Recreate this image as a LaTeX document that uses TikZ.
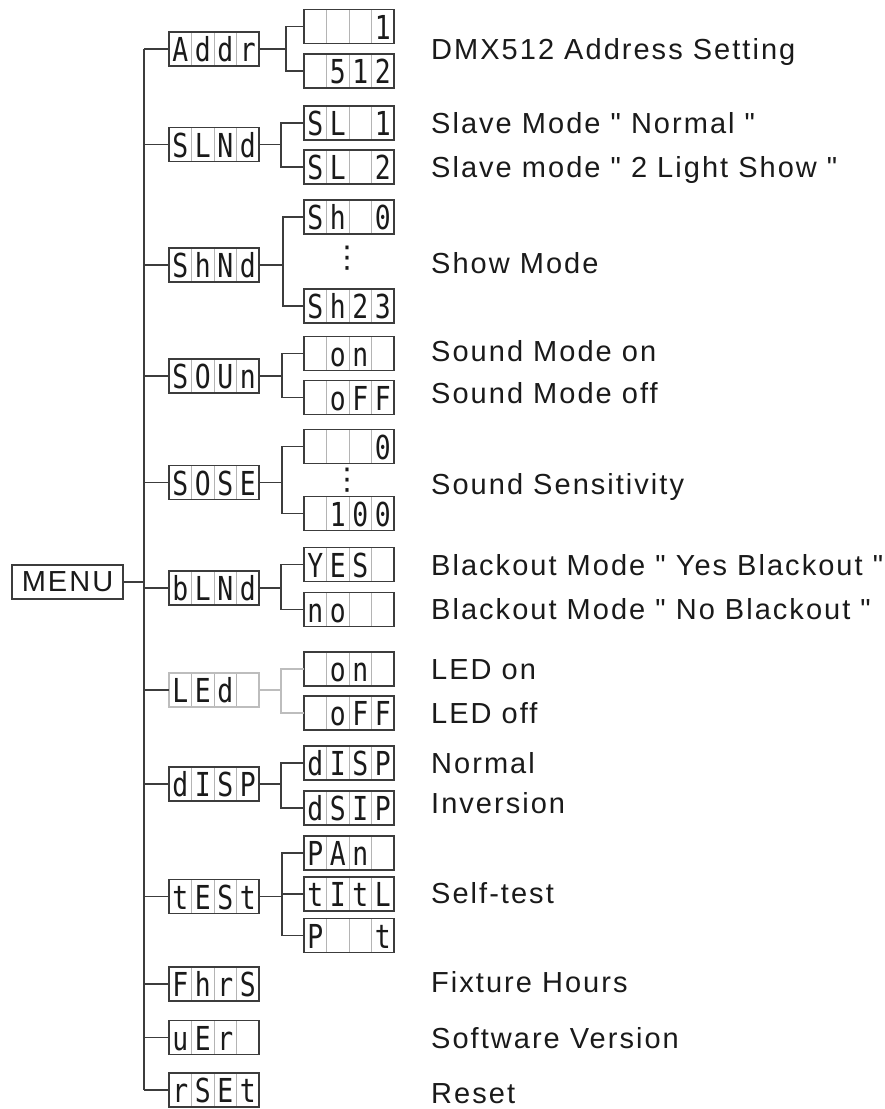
\documentclass[tikz,border=0pt]{standalone}
\usepackage{fontspec}
\setmainfont{Liberation Sans}
\newfontfamily\segfont{DejaVu Sans Mono}[FakeStretch=0.8]
\newfontfamily\lblfont{Liberation Sans}[LetterSpace=7]
\newfontfamily\dotfont{DejaVu Sans}

\definecolor{wiregray}{HTML}{3C3C3C}
\definecolor{cellgray}{HTML}{B4B4B4}
\definecolor{dimgray}{HTML}{BDBDBD}
\definecolor{textblack}{HTML}{1A1A1A}

\tikzset{
  wire/.style={draw=wiregray, line width=1.3pt},
  dimwire/.style={draw=dimgray, line width=1.3pt},
  celldiv/.style={draw=cellgray, line width=0.9pt},
  lcdbox/.style={line width=1.3pt, minimum width=90pt, minimum height=34pt, inner sep=0pt, outer sep=0pt},
  lcdchar/.style={anchor=base, inner sep=0pt, text=textblack, font=\segfont\fontsize{33}{33}\selectfont},
  lbl/.style={anchor=base west, inner sep=0pt, text=textblack, font=\lblfont\fontsize{29}{29}\selectfont},
  vdotsnode/.style={inner sep=0pt, text=textblack, font=\dotfont\fontsize{30}{30}\selectfont}
}

% four-cell display: [border colour]{name}{position}{c1}{c2}{c3}{c4}
\newcommand{\lcd}[7][wiregray]{%
  \node[lcdbox] (#2) at #3 {};
  \foreach \k in {1,2,3} \draw[celldiv] (#2.north west) ++(\k*22.5,0) -- ++(0,34);
  \draw[draw=#1, line width=1.3pt] (#2.north west) rectangle (#2.south east);
  \node[lcdchar] (#2-1) at ([xshift=11.25pt, yshift=-12.5pt]#2.west) {#4};
  \node[lcdchar] (#2-2) at ([xshift=33.75pt, yshift=-12.5pt]#2.west) {#5};
  \node[lcdchar] (#2-3) at ([xshift=56.25pt, yshift=-12.5pt]#2.west) {#6};
  \node[lcdchar] (#2-4) at ([xshift=78.75pt, yshift=-12.5pt]#2.west) {#7};
}

\begin{document}
\begin{tikzpicture}[x=1pt,y=-1pt]
  \useasboundingbox (0,0) rectangle (885,1109);

  \node[lcdbox, draw=wiregray, minimum width=111pt, font=\lblfont\fontsize{29}{29}\selectfont, text=textblack] (menu) at (67.5,582) {MENU};
  \coordinate (trunk) at (144,0);

  \lcd{addr}{(214,49)}{A}{d}{d}{r}
  \lcd{a1}{(349,26.5)}{}{}{}{1}
  \lcd{a2}{(349,71)}{}{5}{1}{2}
  \lcd{slnd}{(214,144.5)}{S}{L}{N}{d}
  \lcd{sl1}{(349,123)}{S}{L}{}{1}
  \lcd{sl2}{(349,167)}{S}{L}{}{2}
  \lcd{shnd}{(214,265)}{S}{h}{N}{d}
  \lcd{sh0}{(349,217)}{S}{h}{}{0}
  \lcd{sh23}{(349,306)}{S}{h}{2}{3}
  \lcd{soun}{(214,376)}{S}{O}{U}{n}
  \lcd{on1}{(349,353.5)}{}{o}{n}{}
  \lcd{off1}{(349,397.5)}{}{o}{F}{F}
  \lcd{sose}{(214,482.5)}{S}{O}{S}{E}
  \lcd{ss0}{(349,446.5)}{}{}{}{0}
  \lcd{ss100}{(349,513.5)}{}{1}{0}{0}
  \lcd{blnd}{(214,588)}{b}{L}{N}{d}
  \lcd{yes}{(349,564.5)}{Y}{E}{S}{}
  \lcd{no}{(349,609.5)}{n}{o}{}{}
  \lcd[dimgray]{led}{(214,690)}{L}{E}{d}{}
  \lcd{on2}{(349,669)}{}{o}{n}{}
  \lcd{off2}{(349,713)}{}{o}{F}{F}
  \lcd{disp}{(214,784)}{d}{I}{S}{P}
  \lcd{disp1}{(349,763)}{d}{I}{S}{P}
  \lcd{dsip}{(349,808)}{d}{S}{I}{P}
  \lcd{test}{(214,896.5)}{t}{E}{S}{t}
  \lcd{pan}{(349,853)}{P}{A}{n}{}
  \lcd{tilt}{(349,894)}{t}{I}{t}{L}
  \lcd{ptlt}{(349,935.5)}{P}{}{}{t}
  \lcd{fhrs}{(214,984)}{F}{h}{r}{S}
  \lcd{ver}{(214,1037.5)}{u}{E}{r}{}
  \lcd{rset}{(214,1090)}{r}{S}{E}{t}

  \node[vdotsnode] (dots1) at (347,258) {⋮};
  \node[vdotsnode] (dots2) at (347,480) {⋮};

  \draw[wire] (addr.west -| trunk) -- (rset.west -| trunk);
  \draw[wire] (menu.east) -- (menu.east -| trunk);
  \foreach \b in {addr,slnd,shnd,soun,sose,blnd,led,disp,test,fhrs,ver,rset} {
    \draw[wire] (\b.west -| trunk) -- (\b.west);
  }
  \foreach \p/\c/\d in {addr/a1/27, addr/a2/27, slnd/sl1/22, slnd/sl2/22, shnd/sh0/24, shnd/sh23/24,
      soun/on1/23, soun/off1/23, sose/ss0/23, sose/ss100/23, blnd/yes/22, blnd/no/22,
      disp/disp1/22, disp/dsip/22, test/pan/23, test/tilt/23, test/ptlt/23} {
    \draw[wire] (\p.east) -- ++(\d,0) |- (\c.west);
  }
  \draw[dimwire] (led.east) -- ++(22,0) |- (on2.west);
  \draw[dimwire] (led.east) -- ++(22,0) |- (off2.west);

  \node[lbl] (l-addr) at (431,59) {DMX512 Address Setting};
  \node[lbl] (l-sl1) at (431,133) {Slave Mode " Normal "};
  \node[lbl] (l-sl2) at (431,177) {Slave mode " 2 Light Show "};
  \node[lbl] (l-shnd) at (431,273) {Show Mode};
  \node[lbl] (l-on1) at (431,361) {Sound Mode on};
  \node[lbl] (l-off1) at (431,403) {Sound Mode off};
  \node[lbl] (l-sose) at (431,494) {Sound Sensitivity};
  \node[lbl] (l-yes) at (431,575) {Blackout Mode " Yes Blackout "};
  \node[lbl] (l-no) at (431,619) {Blackout Mode " No Blackout "};
  \node[lbl] (l-on2) at (431,679) {LED on};
  \node[lbl] (l-off2) at (431,723) {LED off};
  \node[lbl] (l-disp) at (431,773) {Normal};
  \node[lbl] (l-dsip) at (431,813) {Inversion};
  \node[lbl] (l-test) at (431,903) {Self-test};
  \node[lbl] (l-fhrs) at (431,992) {Fixture Hours};
  \node[lbl] (l-ver) at (431,1048) {Software Version};
  \node[lbl] (l-rset) at (431,1103) {Reset};
\end{tikzpicture}
\end{document}
